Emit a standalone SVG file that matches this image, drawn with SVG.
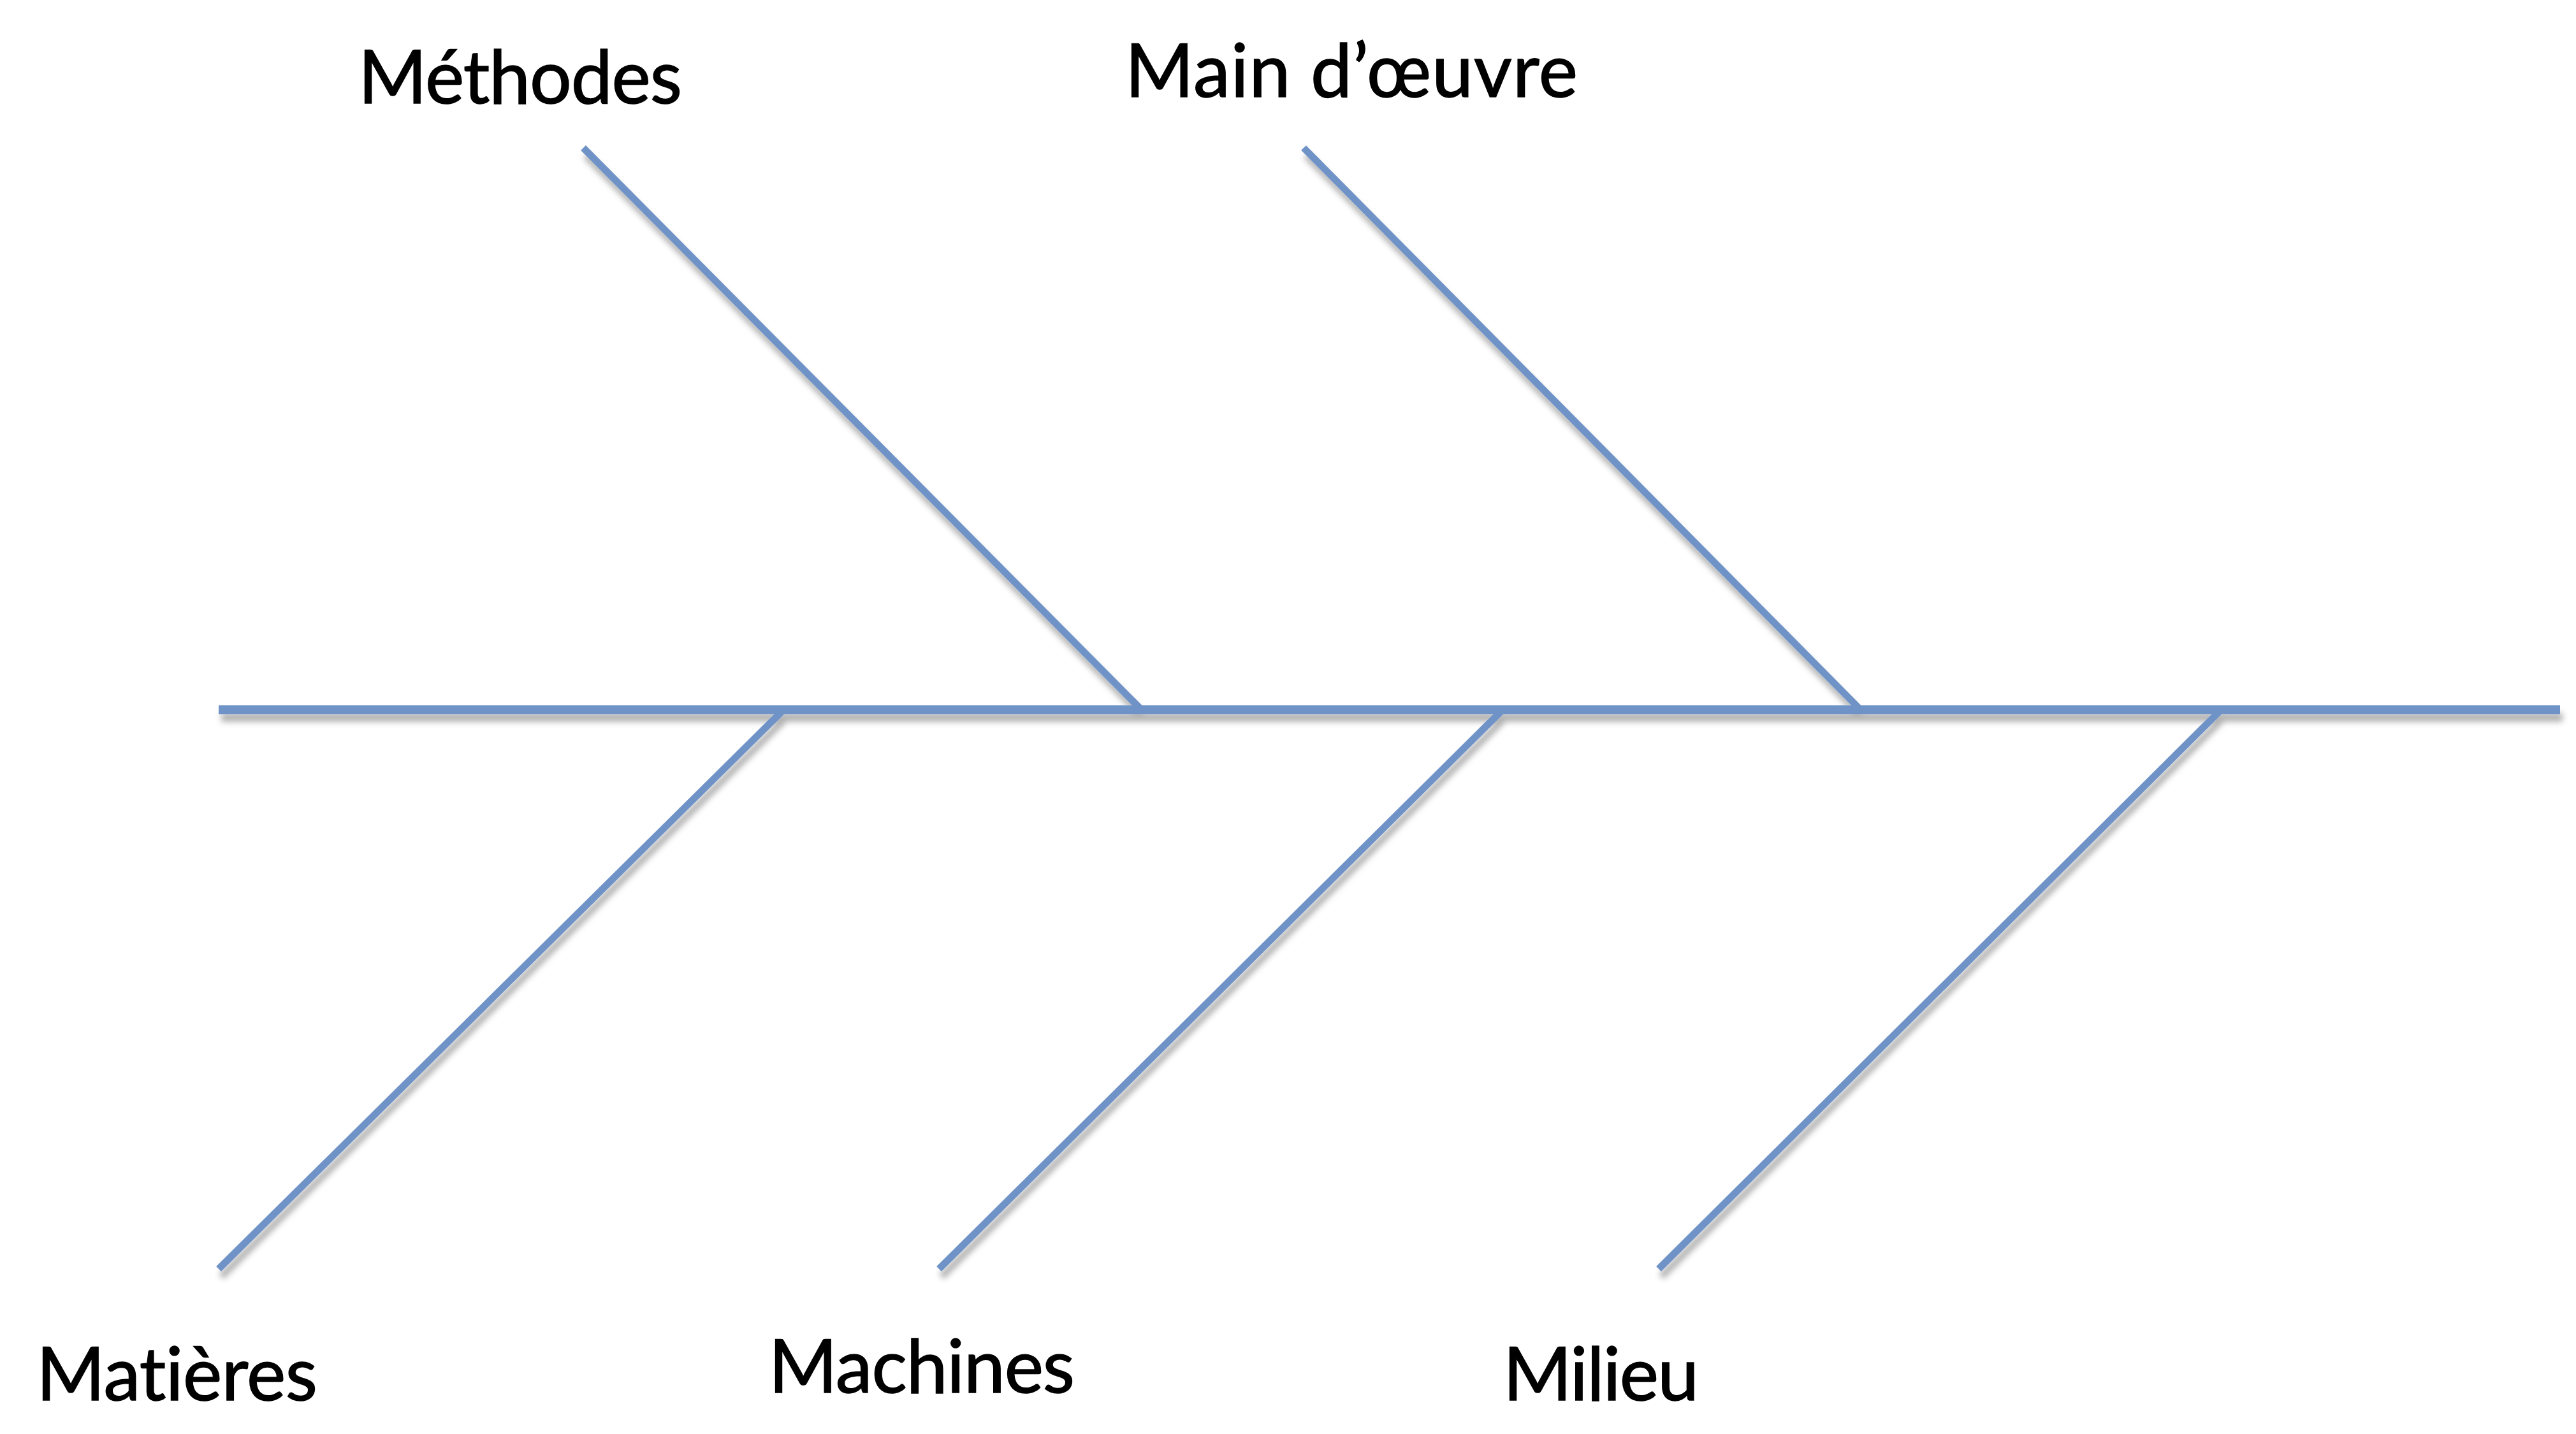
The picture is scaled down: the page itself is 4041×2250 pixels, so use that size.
<svg xmlns="http://www.w3.org/2000/svg" width="4041" height="2250" viewBox="0 0 4041 2250">
<defs>
<filter id="sh" x="-10%" y="-10%" width="120%" height="130%">
<feDropShadow dx="4" dy="12" stdDeviation="5" flood-color="#000" flood-opacity="0.3"/>
</filter>
</defs>
<style>
.bone{stroke:#7093C7;stroke-width:11;fill:none}
.spine{stroke:#7093C7;stroke-width:14;fill:none}
.lbl{font-family:Lato,"Open Sans","Liberation Sans",sans-serif;font-size:116px;fill:#000;font-variant-ligatures:none;stroke:#000;stroke-width:1.5}
</style>
<rect width="4041" height="2250" fill="#fff"/>
<g id="connectors" filter="url(#sh)">
<line class="spine" x1="343" y1="1113.5" x2="4016" y2="1113.5"/>
<line class="bone" x1="915" y1="232" x2="1789" y2="1112"/>
<line class="bone" x1="2045" y1="232" x2="2917" y2="1112"/>
<line class="bone" x1="343" y1="1991" x2="1229" y2="1114"/>
<line class="bone" x1="1473" y1="1991" x2="2357" y2="1114"/>
<line class="bone" x1="2602" y1="1991" x2="3484" y2="1114"/>
</g>
<g id="methodes"><text class="lbl" x="562" y="162" textLength="508" lengthAdjust="spacing">Méthodes</text></g>
<g id="main-oeuvre"><text class="lbl" x="1765" y="152" textLength="710" lengthAdjust="spacing">Main d’œuvre</text></g>
<g id="matieres"><text class="lbl" x="57" y="2197" textLength="441" lengthAdjust="spacing">Matières</text></g>
<g id="machines"><text class="lbl" x="1206" y="2185" textLength="480" lengthAdjust="spacing">Machines</text></g>
<g id="milieu"><text class="lbl" x="2358" y="2197" textLength="307" lengthAdjust="spacing">Milieu</text></g>
</svg>
